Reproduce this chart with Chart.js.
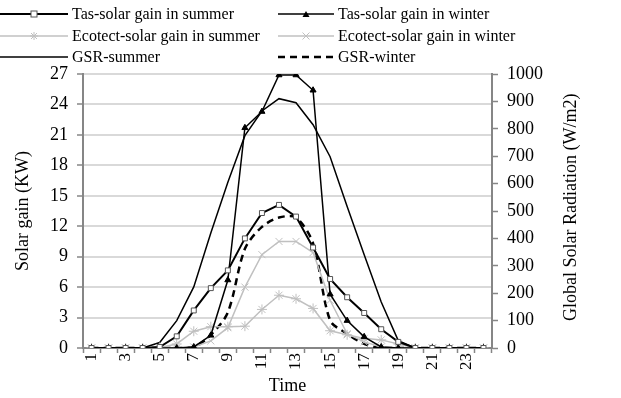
<!DOCTYPE html>
<html>
<head>
<meta charset="utf-8">
<script src="https://cdn.jsdelivr.net/npm/chart.js@4"></script>
<style>
  html, body { margin: 0; padding: 0; background: #fff; }
  #wrap { position: relative; width: 621px; height: 398px; font-family: "Liberation Serif", "Times New Roman", serif; }
  #grafico { position: absolute; left: 0; top: 0; }
  .leg { position: absolute; height: 20px; font-size: 16px; line-height: 20px; color: #000; white-space: nowrap; }
  .leg svg { position: absolute; left: 0; top: 0; }
  .leg span { position: absolute; top: 0; }
  #tituloDireita { position: absolute; left: 559px; top: 90px; height: 234px; font-size: 18px; line-height: 22px;
    writing-mode: vertical-rl; transform: rotate(180deg); text-align: center; white-space: nowrap; }
</style>
</head>
<body>
<div id="wrap">
  <canvas id="grafico" width="621" height="398"></canvas>
  <div id="legenda"></div>
  <div id="tituloDireita">Global Solar Radiation (W/m2)</div>
</div>
<script>
const horas = ['1','2','3','4','5','6','7','8','9','10','11','12','13','14','15','16','17','18','19','20','21','22','23','24'];

// solar gain (KW) - eixo esquerdo
const tasVerao = [0,0,0,0,0.1,1.15,3.7,5.9,7.65,10.8,13.3,14.1,12.95,9.9,6.8,5.0,3.45,1.85,0.6,0,0,0,0,0];
const tasInverno = [0,0,0,0,0,0,0.1,1.25,6.7,21.7,23.3,26.9,26.9,25.4,5.3,2.7,1.1,0.1,0,0,0,0,0,0];
const ecotectVerao = [0,0,0,0,0.05,0.4,1.65,2.1,2.1,2.15,3.8,5.2,4.85,3.9,1.7,1.3,0.95,0.8,0.4,0,0,0,0,0];
const ecotectInverno = [0,0,0,0,0,0,0.1,0.7,2.0,6.0,9.2,10.5,10.5,9.4,4.7,1.4,0.6,0.1,0,0,0,0,0,0];

// global solar radiation (W/m2) - eixo direito
const gsrVerao = [0,0,0,0,20,100,223,420,605,775,865,910,895,815,698,516,340,168,27,0,0,0,0,0];
const gsrInverno = [0,0,0,0,0,0,3,48,130,362,442,476,476,382,101,52,15,0,0,0,0,0,0,0];

const ticksEsquerda = [0, 27, 3];
const ticksDireita = [0, 1000, 100];

const FONTE = '"Liberation Serif", "Times New Roman", serif';
const CINZA = '#c0c0c0';
const EIXO = '#868686';

const series = [
  { label: 'Tas-solar gain in summer', data: tasVerao, eixo: 'y', cor: '#000', largura: 2, ponto: 'rect', raio: 3.5, fundo: '#fff', borda: '#555' },
  { label: 'Tas-solar gain in winter', data: tasInverno, eixo: 'y', cor: '#000', largura: 1.5, ponto: 'triangle', raio: 3.5, fundo: '#000', borda: '#000' },
  { label: 'Ecotect-solar gain in summer', data: ecotectVerao, eixo: 'y', cor: CINZA, largura: 1.5, ponto: 'star', raio: 5, fundo: CINZA, borda: CINZA },
  { label: 'Ecotect-solar gain in winter', data: ecotectInverno, eixo: 'y', cor: CINZA, largura: 1.5, ponto: 'crossRot', raio: 5, fundo: CINZA, borda: CINZA },
  { label: 'GSR-summer', data: gsrVerao, eixo: 'y2', cor: '#000', largura: 1.5, ponto: false, raio: 0 },
  { label: 'GSR-winter', data: gsrInverno, eixo: 'y2', cor: '#000', largura: 2.5, ponto: false, raio: 0, tracejado: [7, 5], tensao: 0.3 }
];

// legenda em html, duas colunas
const posLegenda = [[0, 4], [278, 4], [0, 26], [278, 26], [0, 47], [278, 47]];
const legenda = document.getElementById('legenda');
series.forEach((s, i) => {
  const [x, y] = posLegenda[i];
  const larg = i % 2 === 0 ? 68 : 56;
  const div = document.createElement('div');
  div.className = 'leg';
  div.style.left = x + 'px';
  div.style.top = y + 'px';
  let marca = '';
  const cx = larg / 2;
  if (s.ponto === 'rect') marca = `<rect x="${cx - 3}" y="7" width="6" height="6" fill="#fff" stroke="#555" stroke-width="1"/>`;
  if (s.ponto === 'triangle') marca = `<polygon points="${cx},7 ${cx - 3.5},13 ${cx + 3.5},13" fill="#000"/>`;
  if (s.ponto === 'star') marca = `<path d="M${cx - 4} 10 H${cx + 4} M${cx} 6 V14 M${cx - 3} 7 L${cx + 3} 13 M${cx + 3} 7 L${cx - 3} 13" stroke="${CINZA}" stroke-width="1"/>`;
  if (s.ponto === 'crossRot') marca = `<path d="M${cx - 3.5} 6.5 L${cx + 3.5} 13.5 M${cx + 3.5} 6.5 L${cx - 3.5} 13.5" stroke="${CINZA}" stroke-width="1"/>`;
  const dash = s.tracejado ? 'stroke-dasharray="7 5"' : '';
  div.innerHTML = `<svg width="${larg}" height="20"><line x1="0" y1="10" x2="${larg}" y2="10" stroke="${s.cor}" stroke-width="${s.largura}" ${dash}/>${marca}</svg>` +
    `<span style="left:${larg + 4}px">${s.label}</span>`;
  legenda.appendChild(div);
});

const datasets = series.map(s => ({
  label: s.label,
  data: s.data,
  yAxisID: s.eixo,
  borderColor: s.cor,
  borderWidth: s.largura,
  borderDash: s.tracejado || [],
  tension: s.tensao || 0,
  pointStyle: s.ponto,
  pointRadius: s.raio,
  pointBackgroundColor: s.fundo,
  pointBorderColor: s.borda,
  pointBorderWidth: 1,
  fill: false
}));

new Chart(document.getElementById('grafico'), {
  type: 'line',
  data: { labels: horas, datasets: datasets },
  options: {
    responsive: false,
    animation: false,
    layout: { padding: { top: 74, left: 0, right: 0, bottom: 0 } },
    font: { family: FONTE },
    plugins: { legend: { display: false }, tooltip: { enabled: false } },
    scales: {
      x: {
        offset: true,
        afterFit: (s) => { s.height = 50; },
        grid: { offset: true, drawOnChartArea: false, tickLength: 5, tickColor: EIXO, tickWidth: 1.5 },
        border: { color: EIXO, width: 2 },
        ticks: {
          autoSkip: false, maxRotation: 90, minRotation: 90, padding: 0,
          color: '#000', font: { family: FONTE, size: 17 },
          callback: (v, i) => (i % 2 === 0 ? horas[i] : '')
        },
        title: { display: true, text: 'Time', color: '#000', font: { family: FONTE, size: 18 }, padding: { top: 0, bottom: 1 } }
      },
      y: {
        position: 'left',
        min: ticksEsquerda[0], max: ticksEsquerda[1],
        afterFit: (s) => { s.width = 83; },
        grid: { color: '#d9d9d9', lineWidth: 2, tickLength: 6, tickColor: EIXO, tickWidth: 1.5 },
        border: { color: EIXO, width: 2 },
        ticks: { stepSize: ticksEsquerda[2], color: '#000', padding: 9, font: { family: FONTE, size: 18 } },
        title: { display: true, text: 'Solar gain (KW)', color: '#000', font: { family: FONTE, size: 18 }, padding: { top: 12, bottom: 0 } }
      },
      y2: {
        position: 'right',
        min: ticksDireita[0], max: ticksDireita[1],
        afterFit: (s) => { s.width = 129; },
        grid: { drawOnChartArea: false, tickLength: 6, tickColor: EIXO, tickWidth: 1.5 },
        border: { color: EIXO, width: 2 },
        ticks: { stepSize: ticksDireita[2], color: '#000', padding: 9, font: { family: FONTE, size: 18 },
          callback: (v) => String(v) }
      }
    }
  }
});
</script>
</body>
</html>
